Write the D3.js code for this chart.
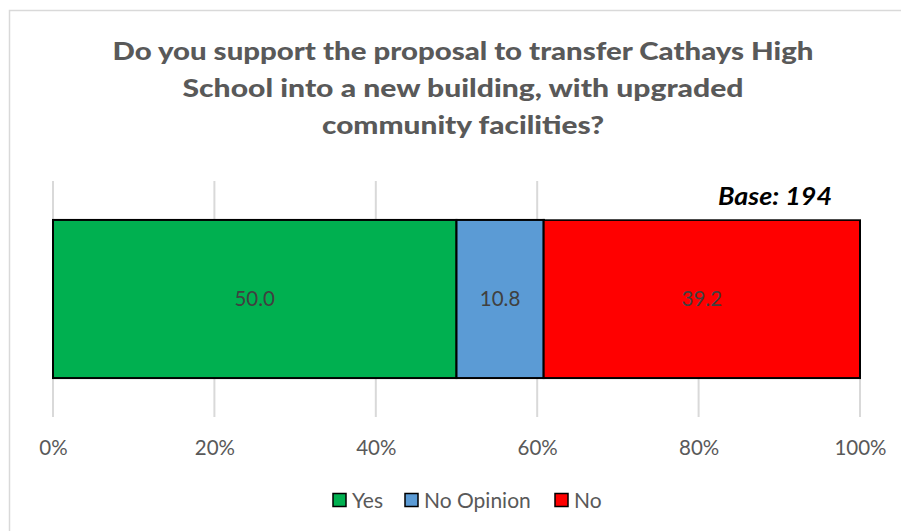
<!DOCTYPE html>
<html><head><meta charset="utf-8">
<script src="https://cdn.jsdelivr.net/npm/d3@7"></script>
<style>body{margin:0;background:#fff}svg{display:block}</style>
</head><body>
<svg id="c" width="901" height="531"></svg>
<script>
const categories = ["Yes", "No Opinion", "No"];
const values = [50.0, 10.8, 39.2];
const colors = ["#00B050", "#5B9BD5", "#FF0000"];
const ticks = [0, 20, 40, 60, 80, 100];
const titleLines = ["Do you support the proposal to transfer Cathays High", "School into a new building, with upgraded", "community facilities?"];
const baseLabel = "Base: 194";

const svg = d3.select("#c");
const font = "Lato, 'Open Sans', sans-serif";

// chart border
svg.append("rect").attr("x", 9.5).attr("y", 10.5).attr("width", 900).attr("height", 530)
  .attr("fill", "#fff").attr("stroke", "#D9D9D9").attr("stroke-width", 1.5);

// title
const titleLen = [701, 561, 282];
svg.append("g").selectAll("text").data(titleLines).join("text")
  .attr("x", 463).attr("y", (d, i) => 59.5 + i * 37)
  .attr("text-anchor", "middle").attr("font-family", font).attr("font-weight", "900")
  .attr("font-size", 25).attr("fill", "#595959")
  .attr("textLength", (d, i) => titleLen[i]).attr("lengthAdjust", "spacingAndGlyphs")
  .text(d => d);

const x = d3.scaleLinear().domain([0, 100]).range([53, 860]);
const y = d3.scaleBand().domain(["q"]).range([181, 417]).paddingInner(0.33).paddingOuter(0.165);

// gridlines
svg.append("g").selectAll("line").data(ticks).join("line")
  .attr("x1", d => x(d)).attr("x2", d => x(d)).attr("y1", 181).attr("y2", 417)
  .attr("stroke", "#D9D9D9").attr("stroke-width", 2);

// axis labels
const axis = svg.append("g").attr("transform", "translate(0,417)")
  .call(d3.axisBottom(x).tickValues(ticks).tickFormat(d => d + "%").tickSize(0).tickPadding(23));
axis.select(".domain").remove();
axis.selectAll("text").attr("font-family", font).attr("font-size", 20.5).attr("fill", "#595959");

// stacked bars
let cum = 0;
const segs = values.map((v, i) => { const s = { cat: categories[i], v, x0: cum, x1: cum + v, c: colors[i] }; cum += v; return s; });
svg.append("g").selectAll("rect").data(segs).join("rect")
  .attr("x", d => x(d.x0)).attr("width", d => x(d.x1) - x(d.x0))
  .attr("y", y("q")).attr("height", y.bandwidth())
  .attr("fill", d => d.c).attr("stroke", "#000").attr("stroke-width", 2);

svg.append("g").selectAll("text").data(segs).join("text")
  .attr("x", d => (x(d.x0) + x(d.x1)) / 2).attr("y", y("q") + y.bandwidth() / 2 + 7)
  .attr("text-anchor", "middle").attr("font-family", font).attr("font-size", 20.5)
  .attr("fill", "#404040").text(d => d.v.toFixed(1));

// base textbox
svg.append("rect").attr("x", 545).attr("y", 176).attr("width", 356).attr("height", 43.3).attr("fill", "#fff");
svg.append("text").attr("x", 718).attr("y", 205)
  .attr("font-family", font).attr("font-weight", "bold").attr("font-style", "italic")
  .attr("font-size", 25).attr("fill", "#000")
  .attr("textLength", 114).attr("lengthAdjust", "spacingAndGlyphs").text(baseLabel);

// legend
const legX = [333, 405, 555];
const lg = svg.append("g").selectAll("g").data(categories).join("g")
  .attr("transform", (d, i) => `translate(${legX[i]},493.5)`);
lg.append("rect").attr("width", 13).attr("height", 13)
  .attr("fill", (d, i) => colors[i]).attr("stroke", "#000").attr("stroke-width", 1.5);
lg.append("text").attr("x", 19).attr("y", 14).attr("font-family", font).attr("font-size", 21)
  .attr("fill", "#595959").text(d => d);
</script>
</body></html>
